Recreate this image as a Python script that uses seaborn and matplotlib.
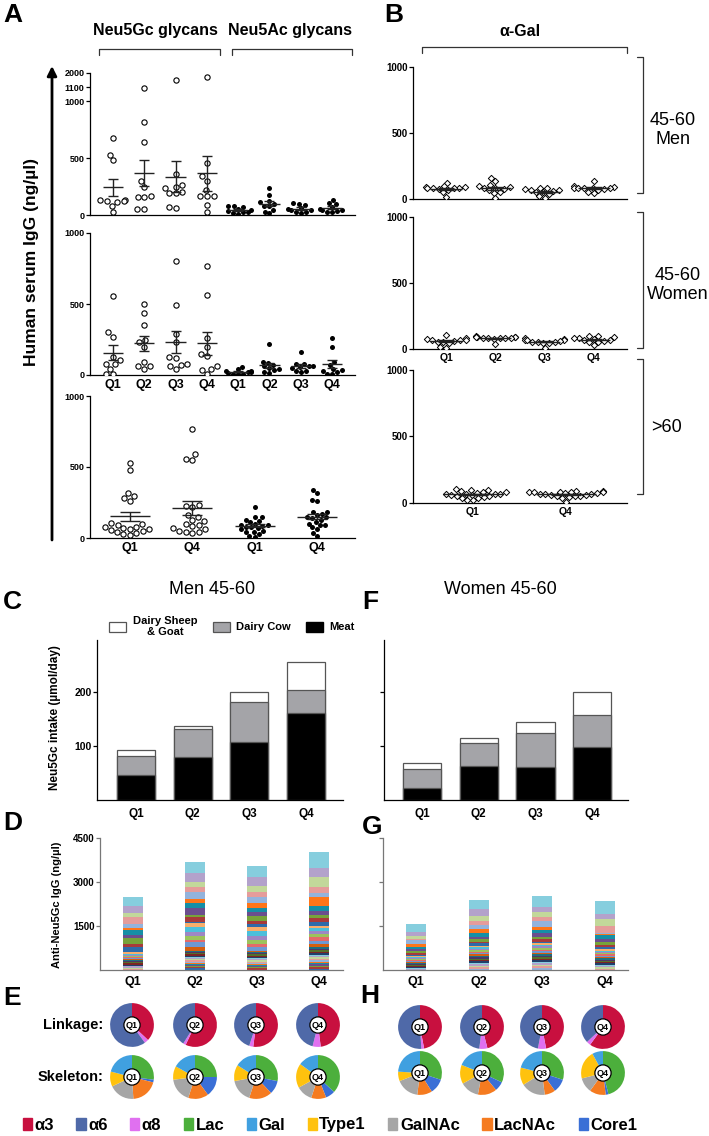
import warnings
import numpy as np
import pandas as pd
import seaborn as sns
import matplotlib.pyplot as plt
from matplotlib.patches import Patch, Circle

warnings.filterwarnings("ignore")

quarters = ["Q1", "Q2", "Q3", "Q4"]

# A: serum IgG against Neu5Gc / Neu5Ac glycans (ng/ul), one value per subject
men_gc = {"Q1": [680, 530, 480, 135, 130, 125, 120, 110, 80, 25],
          "Q2": [1090, 820, 640, 300, 250, 165, 160, 155, 50, 50],
          "Q3": [1550, 360, 260, 250, 240, 200, 195, 190, 70, 60],
          "Q4": [1720, 460, 340, 300, 220, 170, 170, 165, 90, 30]}
men_ac = {"Q1": [80, 78, 70, 55, 40, 35, 30, 25, 20, 10],
          "Q2": [235, 175, 125, 110, 95, 80, 75, 45, 30, 15],
          "Q3": [105, 100, 90, 60, 55, 45, 40, 30, 25, 15],
          "Q4": [135, 105, 95, 70, 55, 45, 40, 35, 30, 25]}
women_gc = {"Q1": [555, 300, 270, 130, 105, 80, 75, 45, 5, 5],
            "Q2": [500, 435, 350, 250, 230, 200, 95, 65, 65, 45],
            "Q3": [800, 490, 290, 230, 130, 120, 75, 70, 60, 40],
            "Q4": [770, 565, 260, 200, 150, 135, 60, 40, 35, 5]}
women_ac = {"Q1": [55, 40, 30, 25, 20, 20, 15, 10, 10, 5],
            "Q2": [215, 95, 85, 70, 60, 50, 40, 35, 20, 15],
            "Q3": [160, 80, 75, 65, 60, 55, 50, 30, 25, 20],
            "Q4": [260, 195, 90, 70, 40, 35, 30, 20, 5, 5]}
old_gc = {"Q1": [525, 480, 315, 295, 280, 260, 105, 100, 95, 80,
                 75, 70, 65, 60, 55, 50, 45, 35, 25, 20],
          "Q4": [770, 590, 555, 550, 235, 225, 220, 165, 150, 130,
                 120, 100, 90, 85, 70, 60, 50, 45, 40, 35]}
old_ac = {"Q1": [215, 150, 145, 130, 120, 110, 100, 95, 90, 85,
                 80, 75, 70, 60, 50, 45, 40, 30, 15, 10],
          "Q4": [335, 315, 270, 260, 185, 180, 170, 160, 150, 145,
                 140, 130, 115, 100, 95, 90, 75, 60, 35, 15]}

# B: anti alpha-Gal IgG (ng/ul)
men_gal = {"Q1": [125, 95, 90, 90, 85, 85, 85, 80, 75, 70, 50, 15],
           "Q2": [160, 135, 105, 95, 90, 85, 80, 75, 65, 50, 45, 5],
           "Q3": [85, 80, 75, 70, 65, 60, 55, 50, 35, 20, 5],
           "Q4": [140, 95, 90, 85, 85, 85, 80, 80, 75, 70, 55, 45]}
women_gal = {"Q1": [105, 80, 75, 70, 70, 65, 60, 55, 50, 45, 15, 10],
             "Q2": [95, 90, 90, 90, 90, 85, 85, 85, 80, 80, 75, 35],
             "Q3": [80, 75, 70, 70, 65, 60, 55, 55, 50, 45, 45, 5],
             "Q4": [100, 95, 90, 85, 85, 75, 70, 65, 60, 55, 50, 30]}
old_gal = {"Q1": [105, 100, 95, 90, 85, 80, 75, 70, 70, 65,
                  65, 60, 60, 55, 50, 45, 40, 35, 25, 20],
           "Q4": [90, 90, 85, 85, 85, 80, 80, 75, 75, 70,
                  70, 65, 60, 60, 55, 50, 50, 45, 40, 10]}

# C / F: Neu5Gc intake (umol/day) by source
men_meat = [46, 80, 107, 161]
men_cow = [35, 51, 74, 43]
men_sheep = [12, 6, 19, 52]
women_meat = [22, 63, 61, 98]
women_cow = [35, 43, 63, 59]
women_sheep = [12, 9, 20, 43]

# D / G: anti-Neu5Gc IgG per glycan, stacked (segments listed top -> bottom)
men_glycans = [
    [284, 261, 136, 227, 148, 57, 170, 114, 193, 91, 193,
     40, 35, 50, 30, 45, 25, 40, 35, 30, 45, 40, 35, 30, 40, 35, 45],
    [398, 284, 193, 170, 227, 136, 170, 227, 91, 170, 34, 136, 170, 114, 136, 91, 170, 114,
     45, 40, 35, 50, 30, 45, 40, 35, 50, 40, 45, 35, 40, 30, 45, 54],
    [375, 284, 227, 148, 205, 182, 148, 114, 170, 114, 114, 136, 148, 148, 136, 91, 136,
     40, 45, 35, 50, 40, 30, 45, 35, 50, 40, 45, 35, 40, 30, 45, 54],
    [568, 307, 341, 193, 125, 307, 170, 136, 125, 136, 114, 80, 91, 114, 114, 114, 114, 114,
     50, 45, 55, 40, 60, 45, 50, 40, 55, 45, 50, 40, 55, 48, 45, 50],
]
women_glycans = [
    [261, 148, 102, 20, 148, 91, 80, 80, 60, 50, 60,
     35, 30, 40, 25, 35, 30, 40, 28, 35, 30, 40, 35, 30, 35],
    [318, 227, 170, 136, 136, 148, 136, 68, 80, 57, 91,
     45, 50, 40, 55, 45, 50, 40, 60, 45, 50, 40, 55, 45, 50, 40, 60, 49],
    [364, 182, 159, 136, 205, 114, 114, 136, 68, 80, 57,
     50, 55, 45, 60, 50, 55, 45, 60, 50, 55, 45, 60, 50, 55, 45, 60, 67],
    [443, 159, 250, 227, 57, 23, 125, 102, 125, 45, 91,
     45, 40, 50, 35, 45, 40, 50, 45, 40, 50, 35, 45, 40, 50, 45, 50],
]
seg_colors = ["#86CEDE", "#B3A2CB", "#C2D89A", "#E59C9A", "#93B3DC", "#FF7518",
              "#168FA6", "#6B4E8E", "#77A33A", "#A83A3A", "#2E6BAA", "#F9AD6A",
              "#4CBFDB", "#9E87C4", "#9CC35C", "#E36A6A", "#6E98D3", "#D65E0E",
              "#1F6E80", "#4D3766", "#55702A", "#7D2525", "#213F6B"]

# E / H: pie fractions (%), clockwise from 12 o'clock
link_colors = ["#C8103F", "#E070F0", "#4F69A8"]          # a3, a8, a6
men_link = [[37, 3, 60], [57, 2, 41], [52, 3, 45], [48, 6, 46]]
women_link = [[47, 2, 51], [46, 6, 48], [47, 6, 47], [60, 3, 37]]
skel_colors = ["#4CAF3C", "#3A6FD6", "#F57B20", "#A6A6A6", "#FFC20E", "#40A0E0"]
men_skel = [[27, 2, 20, 19, 11, 21], [25, 15, 15, 18, 10, 17],
            [28, 10, 17, 17, 12, 16], [37, 7, 11, 12, 18, 15]]
women_skel = [[30, 11, 11, 17, 7, 24], [32, 7, 14, 14, 14, 19],
              [30, 10, 8, 18, 13, 21], [46, 2, 12, 11, 21, 8]]

legend_names = ["\u03b13", "\u03b16", "\u03b18", "Lac", "Gal", "Type1", "GalNAc", "LacNAc", "Core1"]
legend_colors = ["#C8103F", "#4F69A8", "#E070F0", "#4CAF3C", "#40A0E0", "#FFC20E",
                 "#A6A6A6", "#F57B20", "#3A6FD6"]

sns.set_style("ticks")
plt.rcParams["font.family"] = ["Liberation Sans", "DejaVu Sans"]
plt.rcParams["font.weight"] = "bold"
plt.rcParams["axes.linewidth"] = 0.9
for key in ("text.color", "axes.labelcolor", "xtick.color", "ytick.color", "axes.edgecolor"):
    plt.rcParams[key] = "black"

W, H = 709, 1136
fig = plt.figure(figsize=(W / 100, H / 100), dpi=100)


def box(l, t, r, b):
    return [l / W, 1 - b / H, (r - l) / W, (b - t) / H]


bg = fig.add_axes([0, 0, 1, 1])
bg.set_xlim(0, W)
bg.set_ylim(H, 0)
bg.axis("off")


def mean_sem(ax, df, order, half=0.32):
    st = df.groupby("group")["value"].agg(["mean", "sem"])
    for i, g in enumerate(order):
        if g not in st.index:
            continue
        m, s = st.loc[g, "mean"], st.loc[g, "sem"]
        ax.hlines(m, i - half, i + half, color="#222", lw=1, zorder=4)
        ax.vlines(i, m - s, m + s, color="#222", lw=1, zorder=4)
        ax.hlines([m - s, m + s], i - half / 2, i + half / 2, color="#222", lw=1, zorder=4)


def glycan_row(ax, gc, ac, qs):
    rows = [(f"Gc {q}", v) for q in qs for v in gc[q]]
    rows += [(f"Ac {q}", v) for q in qs for v in ac[q]]
    df = pd.DataFrame(rows, columns=["group", "value"])
    order = [f"Gc {q}" for q in qs] + [f"Ac {q}" for q in qs]
    sns.swarmplot(data=df[df.group.str.startswith("Gc")], x="group", y="value", order=order,
                  color="white", edgecolor="black", linewidth=0.8, size=3.8, ax=ax, zorder=3)
    sns.swarmplot(data=df[df.group.str.startswith("Ac")], x="group", y="value", order=order,
                  color="black", linewidth=0, size=3.6, ax=ax, zorder=3)
    mean_sem(ax, df, order)
    ax.set_xticks(range(len(order)), qs + qs)


def gal_row(ax, vals, qs):
    df = pd.DataFrame([(q, v) for q in qs for v in vals[q]], columns=["group", "value"])
    sns.swarmplot(data=df, x="group", y="value", order=qs, marker="D", color="white",
                  edgecolor="black", linewidth=0.7, size=3.2, ax=ax, zorder=3)
    mean_sem(ax, df, qs)
    ax.set_xticks(range(len(qs)), qs)


def finish(ax, xlim, ylim, yticks, ylabels=True, xlabels=True, ysize=6.5, xsize=8.5, color="black"):
    ax.set_xlim(*xlim)
    ax.set_ylim(*ylim)
    ax.set_yticks(yticks)
    if not ylabels:
        ax.set_yticklabels([])
    if not xlabels:
        ax.set_xticklabels([])
    ax.set_xlabel("")
    ax.set_ylabel("")
    sns.despine(ax=ax)
    for sp in ("left", "bottom"):
        ax.spines[sp].set_color(color)
        ax.spines[sp].set_linewidth(0.9)
    ax.tick_params(axis="y", length=3, width=0.9, pad=1, labelsize=ysize, color=color)
    ax.tick_params(axis="x", length=0, pad=3, labelsize=xsize)


# ---- panel A
def brk_fwd(v):
    v = np.asarray(v, float)
    return np.where(v <= 1000, v, np.where(v <= 1100, 1000 + (v - 1000) * 1.23,
                                           1123 + (v - 1100) * 0.1367))


def brk_inv(t):
    t = np.asarray(t, float)
    return np.where(t <= 1000, t, np.where(t <= 1123, 1000 + (t - 1000) / 1.23,
                                           1100 + (t - 1123) / 0.1367))


axA1 = fig.add_axes(box(90, 73, 355, 215))
axA1.set_yscale("function", functions=(brk_fwd, brk_inv))
axA1.set_ylim(0, 2000)
glycan_row(axA1, men_gc, men_ac, quarters)
finish(axA1, (-0.73, 7.73), (0, 2000), [0, 500, 1000, 1100, 2000], xlabels=False)

axA2 = fig.add_axes(box(90, 233, 355, 375))
glycan_row(axA2, women_gc, women_ac, quarters)
finish(axA2, (-0.73, 7.73), (0, 1000), [0, 500, 1000], xsize=9)

axA3 = fig.add_axes(box(90, 396, 355, 538))
glycan_row(axA3, old_gc, old_ac, ["Q1", "Q4"])
finish(axA3, (-0.64, 3.61), (0, 1000), [0, 500, 1000], xsize=9)

# ---- panel B
axB1 = fig.add_axes(box(413, 67, 627, 199))
gal_row(axB1, men_gal, quarters)
finish(axB1, (-0.67, 3.67), (0, 1000), [0, 500, 1000], xlabels=False, ysize=7, xsize=7.5)
axB2 = fig.add_axes(box(413, 217, 627, 349))
gal_row(axB2, women_gal, quarters)
finish(axB2, (-0.67, 3.67), (0, 1000), [0, 500, 1000], ysize=7, xsize=7.5)
axB3 = fig.add_axes(box(413, 370, 627, 503))
gal_row(axB3, old_gal, ["Q1", "Q4"])
finish(axB3, (-0.645, 1.656), (0, 1000), [0, 500, 1000], ysize=7, xsize=7.5)


# ---- panels C / F
def intake(ax, meat, cow, sheep):
    cow_top = np.add(meat, cow)
    total = cow_top + np.asarray(sheep)
    for vals, col in ((total, "white"), (cow_top, "#A4A4A8"), (meat, "black")):
        sns.barplot(x=quarters, y=vals, color=col, saturation=1, width=0.67,
                    edgecolor="#555", linewidth=0.9, errorbar=None, ax=ax)


axC = fig.add_axes(box(97, 640, 343, 800))
intake(axC, men_meat, men_cow, men_sheep)
finish(axC, (-0.69, 3.65), (0, 296), [100, 200], ysize=7.5, xsize=8.5)
axC.tick_params(axis="x", pad=6)
handles = [Patch(fc="white", ec="#555", lw=0.9), Patch(fc="#A4A4A8", ec="#555", lw=0.9),
           Patch(fc="black", ec="black")]
leg = axC.legend(handles, ["Dairy Sheep\n& Goat", "Dairy Cow", "Meat"], ncol=3, loc="center",
                 bbox_to_anchor=(0.55, 1.085), frameon=False, fontsize=8,
                 handlelength=1.5, handleheight=1.0, handletextpad=0.6, columnspacing=1.4)
for t in leg.get_texts():
    t.set_multialignment("center")

axF = fig.add_axes(box(384, 640, 628, 800))
intake(axF, women_meat, women_cow, women_sheep)
finish(axF, (-0.67, 3.63), (0, 296), [100, 200], ylabels=False, xsize=8.5)
axF.tick_params(axis="x", pad=6)


# ---- panels D / G
def glycan_stack(ax, bars):
    for k in range(max(len(b) for b in bars)):
        heights = [sum(b[k:]) for b in bars]
        sns.barplot(x=quarters, y=heights, color=seg_colors[k % len(seg_colors)], saturation=1,
                    width=0.32, linewidth=0, errorbar=None, ax=ax)


axD = fig.add_axes(box(100, 838, 343, 970))
glycan_stack(axD, men_glycans)
finish(axD, (-0.53, 3.39), (0, 4500), [1500, 3000, 4500], ysize=7, xsize=9, color="#777")
axD.tick_params(axis="x", pad=4)

axG = fig.add_axes(box(383, 838, 628, 970))
glycan_stack(axG, women_glycans)
finish(axG, (-0.52, 3.37), (0, 4500), [1500, 3000, 4500], ylabels=False, xsize=9, color="#777")
axG.tick_params(axis="x", pad=4)


# ---- panels E / H
def donut(cx, cy, vals, colors, label):
    ax = fig.add_axes(box(cx - 23, cy - 23, cx + 23, cy + 23))
    ax.pie(vals, colors=colors, startangle=90, counterclock=False, radius=1,
           wedgeprops=dict(linewidth=0))
    ax.add_patch(Circle((0, 0), 0.37, fc="white", ec="black", lw=0.9))
    ax.text(0, 0, label, ha="center", va="center", fontsize=6.5, weight="bold")
    ax.set_xlim(-1.05, 1.05)
    ax.set_ylim(-1.05, 1.05)
    ax.axis("off")


for i, q in enumerate(quarters):
    donut([132, 195, 256, 318][i], 1025, men_link[i], link_colors, q)
    donut([132, 195, 256, 318][i], 1077, men_skel[i], skel_colors, q)
    donut([420, 482, 542, 603][i], 1027, women_link[i], link_colors, q)
    donut([420, 482, 542, 603][i], 1073, women_skel[i], skel_colors, q)

fig.legend([Patch(color=c) for c in legend_colors], legend_names, ncol=9, loc="center",
           bbox_to_anchor=(330 / W, 1 - 1125 / H), frameon=False, fontsize=12,
           handlelength=0.55, handleheight=0.7, handletextpad=0.15, columnspacing=1.35)

# ---- annotations
for x, y, s in [(3, 15, "A"), (384, 15, "B"), (3, 602, "C"), (362, 602, "F"),
                (3, 823, "D"), (362, 827, "G"), (3, 998, "E"), (360, 996, "H")]:
    bg.text(x, y, s, fontsize=19, weight="bold", va="center", ha="left")


def top_bracket(x0, x1, y, h=6):
    bg.plot([x0, x0, x1, x1], [y + h, y, y, y + h], color="#333", lw=0.9)


def side_bracket(x, y0, y1, w=6):
    bg.plot([x - w, x, x, x - w], [y0, y0, y1, y1], color="#333", lw=0.9)


bg.text(155, 31, "Neu5Gc glycans", fontsize=11.5, ha="center", va="center")
bg.text(290, 31, "Neu5Ac glycans", fontsize=11.5, ha="center", va="center")
top_bracket(99, 220, 49)
top_bracket(232, 352, 49)
bg.text(520, 31, "\u03b1-Gal", fontsize=11.5, ha="center", va="center")
top_bracket(422, 627, 47)
side_bracket(643, 57, 193)
side_bracket(643, 212, 348)
side_bracket(643, 359, 494)
bg.text(673, 130, "45-60\nMen", fontsize=13, weight="normal", ha="center", va="center",
        linespacing=1.1)
bg.text(678, 285, "45-60\nWomen", fontsize=13, weight="normal", ha="center", va="center",
        linespacing=1.1)
bg.text(666, 427, ">60", fontsize=13, weight="normal", ha="center", va="center")

bg.annotate("", xy=(52, 66), xytext=(52, 540),
            arrowprops=dict(arrowstyle="-|>", lw=2, color="black", mutation_scale=14,
                            shrinkA=0, shrinkB=0))
bg.text(32, 262, "Human serum IgG (ng/\u00b5l)", fontsize=12.5, rotation=90,
        ha="center", va="center")

bg.text(212, 589, "Men 45-60", fontsize=13, weight="normal", ha="center", va="center")
bg.text(500, 589, "Women 45-60", fontsize=13, weight="normal", ha="center", va="center")
bg.text(55, 718, "Neu5Gc intake (\u00b5mol/day)", fontsize=8.5, rotation=90,
        ha="center", va="center")
bg.text(57, 905, "Anti-Neu5Gc IgG (ng/\u00b5l)", fontsize=8, rotation=90,
        ha="center", va="center")
bg.text(103, 1025, "Linkage:", fontsize=10.5, ha="right", va="center")
bg.text(103, 1077, "Skeleton:", fontsize=10.5, ha="right", va="center")

fig.savefig("out.png", dpi=100)
